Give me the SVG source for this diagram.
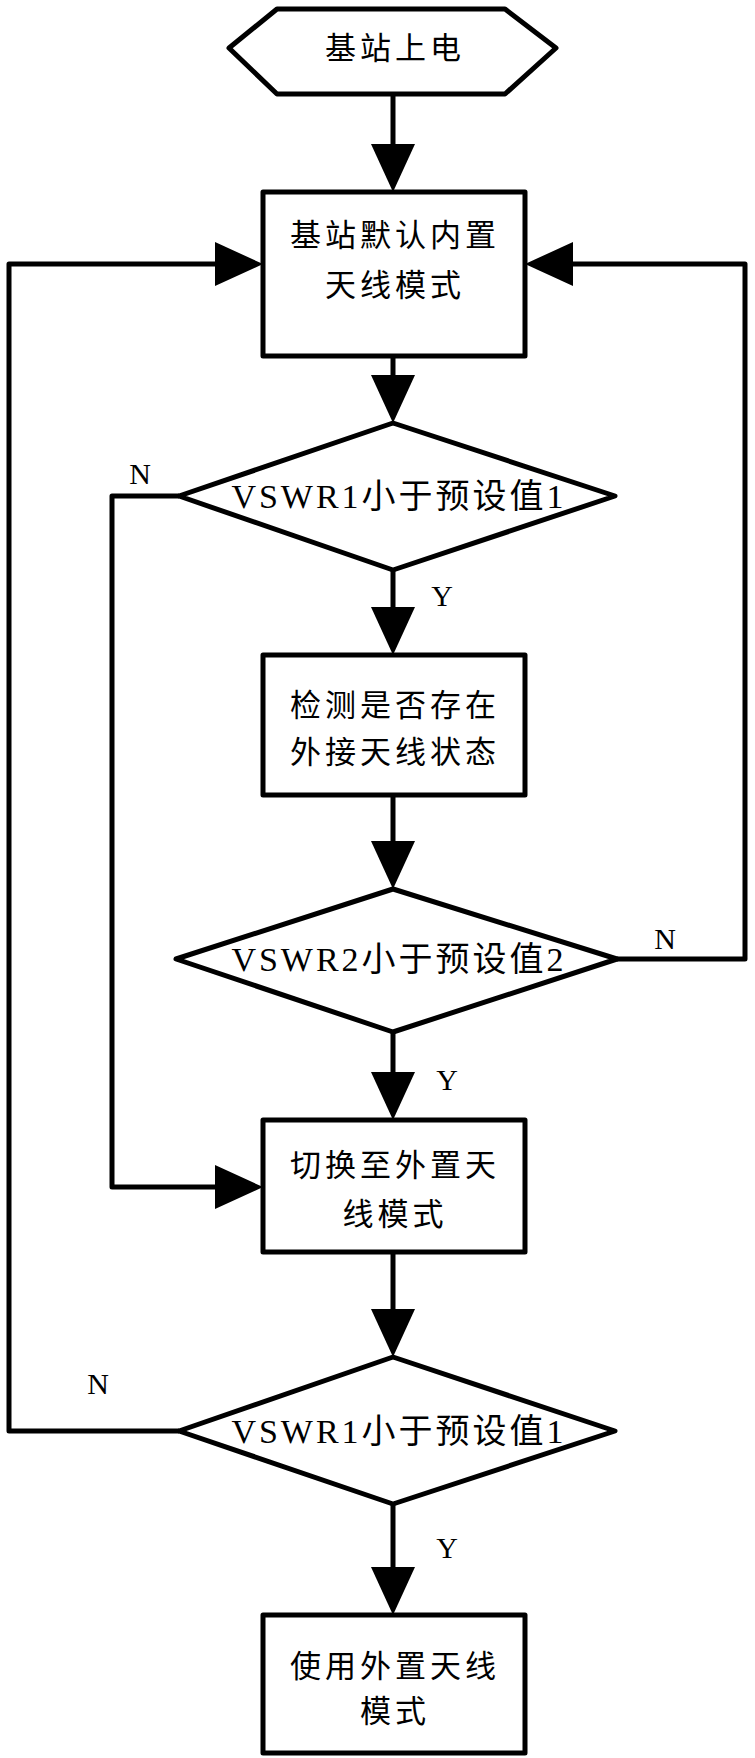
<svg xmlns="http://www.w3.org/2000/svg" width="755" height="1758" viewBox="0 0 755 1758">
<style>
.s{fill:#fff;stroke:#000;stroke-width:5;stroke-linejoin:round}
.l{fill:none;stroke:#000;stroke-width:5;stroke-linejoin:round}
.h{fill:#000}
.t{font-family:"Liberation Serif","Noto Sans CJK SC",serif;font-size:31px;text-anchor:middle;fill:#000}
.c{letter-spacing:4px}
.d{font-size:34px;letter-spacing:3px}
.lb{font-family:"Liberation Serif",serif;font-size:30px;text-anchor:middle;fill:#000}
</style>
<g id="start"><polygon class="s" points="229,48 277,9 505,9 556,48 505,94 277,94"/><text class="t c" x="395" y="59">基站上电</text></g>
<g id="box1"><rect class="s" x="263" y="192" width="262" height="164"/><text class="t c" x="395" y="246">基站默认内置</text><text class="t c" x="395" y="296">天线模式</text></g>
<g id="d1"><polygon class="s" points="393,423 615,496 393,570 179,496"/><text class="t d" x="399" y="508">VSWR1小于预设值1</text></g>
<g id="box2"><rect class="s" x="263" y="655" width="262" height="140"/><text class="t c" x="395" y="716">检测是否存在</text><text class="t c" x="395" y="763">外接天线状态</text></g>
<g id="d2"><polygon class="s" points="393,889 617,959 393,1032 176,959"/><text class="t d" x="399" y="971">VSWR2小于预设值2</text></g>
<g id="box3"><rect class="s" x="263" y="1120" width="262" height="132"/><text class="t c" x="395" y="1176">切换至外置天</text><text class="t c" x="395" y="1225">线模式</text></g>
<g id="d3"><polygon class="s" points="393,1357 615,1431 393,1504 179,1431"/><text class="t d" x="399" y="1443">VSWR1小于预设值1</text></g>
<g id="box4"><rect class="s" x="263" y="1615" width="262" height="138"/><text class="t c" x="395" y="1677">使用外置天线</text><text class="t c" x="395" y="1722">模式</text></g>
<g id="connectors">
<path class="l" d="M393,94V170"/><polygon class="h" points="371,144 415,144 393,192"/>
<path class="l" d="M393,356V400"/><polygon class="h" points="371,375 415,375 393,423"/>
<path class="l" d="M393,570V632"/><polygon class="h" points="371,607 415,607 393,655"/>
<path class="l" d="M393,795V866"/><polygon class="h" points="371,841 415,841 393,889"/>
<path class="l" d="M393,1032V1097"/><polygon class="h" points="371,1072 415,1072 393,1120"/>
<path class="l" d="M393,1252V1334"/><polygon class="h" points="371,1309 415,1309 393,1357"/>
<path class="l" d="M393,1504V1592"/><polygon class="h" points="371,1567 415,1567 393,1615"/>
<path class="l" d="M179,496H112V1187H240"/><polygon class="h" points="215,1165 215,1209 263,1187"/>
<path class="l" d="M617,959H745V264H548"/><polygon class="h" points="573,242 573,286 525,264"/>
<path class="l" d="M179,1431H9V264H240"/><polygon class="h" points="215,242 215,286 263,264"/>
</g>
<text class="lb" x="140" y="484">N</text>
<text class="lb" x="442" y="606">Y</text>
<text class="lb" x="665" y="949">N</text>
<text class="lb" x="447" y="1090">Y</text>
<text class="lb" x="98" y="1394">N</text>
<text class="lb" x="447" y="1558">Y</text>
</svg>
